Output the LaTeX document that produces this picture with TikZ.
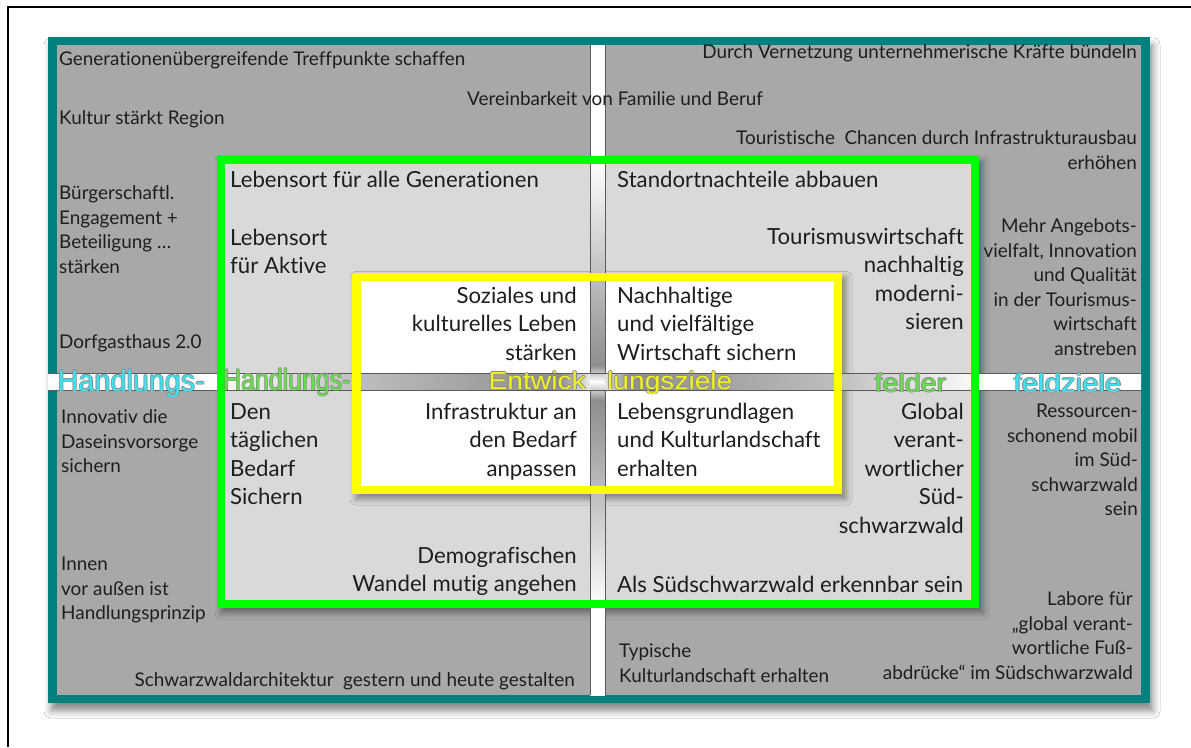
\documentclass[tikz,border=0pt]{standalone}
\usepackage{fontspec}
\usepackage{graphicx}
\setmainfont{Lato}[Ligatures=NoCommon]
\newfontfamily\labelfont{Liberation Sans}
\usetikzlibrary{shadows.blur}
\definecolor{teal0}{HTML}{00807F}
\definecolor{panelgray}{HTML}{A8A8A8}
\definecolor{lightpanel}{HTML}{D9D9D9}
\definecolor{gbox}{HTML}{00FF00}
\definecolor{ybox}{HTML}{FFFF00}
\definecolor{txt}{HTML}{1E1E1E}
\definecolor{bandA}{HTML}{BDBDBD}
\definecolor{bandB}{HTML}{8E8E8E}
\definecolor{bandline}{HTML}{5A5A5A}
\definecolor{cyanL}{HTML}{3CE3EE}
\definecolor{greenL}{HTML}{66E04A}
\definecolor{yellowL}{HTML}{F2F21E}
\definecolor{olgray}{HTML}{8A8A8A}
\pgfdeclarehorizontalshading{hband}{100bp}{color(0bp)=(white); color(25bp)=(white); color(32.64bp)=(white); color(39.27bp)=(bandA); color(48.42bp)=(bandB); color(50.11bp)=(white); color(51.62bp)=(bandB); color(60.96bp)=(bandA); color(67.86bp)=(white); color(75bp)=(white); color(100bp)=(white)}
\pgfdeclareverticalshading{vband}{100bp}{color(0bp)=(white); color(25bp)=(white); color(31.54bp)=(white); color(40.77bp)=(bandA); color(47.69bp)=(bandB); color(49.12bp)=(white); color(50.38bp)=(bandB); color(56.92bp)=(bandA); color(66.15bp)=(white); color(75bp)=(white); color(100bp)=(white)}
\newcommand\olt[3]{%
  \makebox[0pt][l]{\textcolor{#1}{\hspace*{0.8pt}#3}}%
  \makebox[0pt][l]{\textcolor{#1}{\hspace*{-0.8pt}#3}}%
  \makebox[0pt][l]{\textcolor{#1}{\raisebox{0.8pt}{#3}}}%
  \makebox[0pt][l]{\textcolor{#1}{\raisebox{-0.8pt}{#3}}}%
  \textcolor{#2}{#3}}
\tikzset{
  otext/.style={inner sep=0pt, font=\fontsize{18.9}{24.6}\selectfont, text=txt},
  itext/.style={inner sep=0pt, font=\fontsize{22.2}{28.6}\selectfont, text=txt},
  lbl/.style={inner sep=0pt, anchor=base west, font=\labelfont\fontsize{30}{30}\selectfont},
  panelshadow/.style={blur shadow={shadow xshift=4pt, shadow yshift=-5pt, shadow blur radius=6pt, shadow opacity=40}},
}
\begin{document}
\begin{tikzpicture}[x=1pt,y=-1pt]
\useasboundingbox (0,0) rectangle (1191,747);
\fill[white] (0,0) rectangle (1191,747);
% teal frame
\fill[teal0, blur shadow={shadow xshift=3pt, shadow yshift=-8pt, shadow blur radius=7pt, shadow opacity=45}] (48,37) rectangle (1150,703);
\fill[panelgray] (57,45) rectangle (1141,695);
% green and yellow boxes
\fill[lightpanel, panelshadow] (217,156) rectangle (979,608);
\fill[white, panelshadow] (352,272.5) rectangle (842,494);
% gaps between quadrants
\shade[shading=hband] (48,373) rectangle (1141,390);
\shade[shading=vband] (590,45) rectangle (605,695);
\draw[bandline, line width=0.8pt] (48,373) -- (1141,373) (48,390) -- (1141,390);
\draw[bandline, line width=0.8pt] (590,45) -- (590,373) (590,390) -- (590,695) (605,45) -- (605,373) (605,390) -- (605,695);
% frames
\draw[gbox, line width=8pt] (221,160) rectangle (975,604);
\draw[ybox, line width=8.5pt] (356.25,276.75) rectangle (837.75,489.75);
% outer texts (multi-line nodes: base = last line)
\node[otext, anchor=base west] (gen) at (59,65.7) {Generationenübergreifende Treffpunkte schaffen};
\node[otext, anchor=base west] (kultur) at (59,124) {Kultur stärkt Region};
\node[otext, anchor=base west, align=left] (buerger) at (59,273.3) {Bürgerschaftl.\\Engagement +\\Beteiligung …\\stärken};
\node[otext, anchor=base west] (dorf) at (59,348) {Dorfgasthaus 2.0};
\node[otext, anchor=base west] (verein) at (467,105.5) {Vereinbarkeit von Familie und Beruf};
\node[otext, anchor=base east] (durch) at (1137,58.7) {Durch Vernetzung unternehmerische Kräfte bündeln};
\node[otext, anchor=base east, align=right] (tour) at (1137,169.5) {Touristische\hspace{0.25em} Chancen durch Infrastrukturausbau\\erhöhen};
\node[otext, anchor=base east, align=right] (mehr) at (1137,355.5) {Mehr Angebots-\\vielfalt, Innovation\\und Qualität\\in der Tourismus-\\wirtschaft\\anstreben};
\node[otext, anchor=base west, align=left] (innov) at (61,472.7) {Innovativ die\\Daseinsvorsorge\\sichern};
\node[otext, anchor=base west, align=left] (innen) at (61,619.7) {Innen\\vor außen ist\\Handlungsprinzip};
\node[otext, anchor=base east] (schwarz) at (575,686) {Schwarzwaldarchitektur\hspace{0.25em} gestern und heute gestalten};
\node[otext, anchor=base east, align=right] (ress) at (1138,515.9) {Ressourcen-\\schonend mobil\\im Süd-\\schwarzwald\\sein};
\node[otext, anchor=base east, align=right] (labore) at (1133,679.3) {Labore für\\„global verant-\\wortliche Fuß-\\abdrücke“ im Südschwarzwald};
\node[otext, anchor=base west, align=left] (typ) at (619,682.1) {Typische\\Kulturlandschaft erhalten};
% green box texts
\node[itext, anchor=base west] (lalle) at (230,187) {Lebensort für alle Generationen};
\node[itext, anchor=base west, align=left] (laktiv) at (230,273.6) {Lebensort\\für Aktive};
\node[itext, anchor=base west] (stand) at (617,187) {Standortnachteile abbauen};
\node[itext, anchor=base east, align=right] (tourw) at (964,329.8) {Tourismuswirtschaft\\nachhaltig\\moderni-\\sieren};
\node[itext, anchor=base west, align=left] (den) at (230,504.8) {Den\\täglichen\\Bedarf\\Sichern};
\node[itext, anchor=base east, align=right] (global) at (964,533.4) {Global\\verant-\\wortlicher\\Süd-\\schwarzwald};
\node[itext, anchor=base east, align=right] (demo) at (577,591.6) {Demografischen\\Wandel mutig angehen};
\node[itext, anchor=base west] (als) at (617,592) {Als Südschwarzwald erkennbar sein};
% yellow box texts
\node[itext, anchor=base east, align=right] (soz) at (577,360.2) {Soziales und\\kulturelles Leben\\stärken};
\node[itext, anchor=base west, align=left] (nach) at (617,360.2) {Nachhaltige\\und vielfältige\\Wirtschaft sichern};
\node[itext, anchor=base east, align=right] (infra) at (577,476.2) {Infrastruktur an\\den Bedarf\\anpassen};
\node[itext, anchor=base west, align=left] (lebg) at (617,476.2) {Lebensgrundlagen\\und Kulturlandschaft\\erhalten};
% overlay labels
\node[lbl] (hl1) at (57.5,391) {\scalebox{0.96}[1]{\olt{olgray}{cyanL}{Handlungs-}}};
\node[lbl] (hl2) at (223,390) {\scalebox{0.83}[1]{\olt{olgray}{greenL}{Handlungs-}}};
\node[lbl, font=\labelfont\fontsize{24.7}{24.7}\selectfont] (ent1) at (488.5,389) {\scalebox{1.14}[1]{\olt{olgray}{yellowL}{Entwick}}};
\node[lbl, font=\labelfont\fontsize{24.7}{24.7}\selectfont] (ent2) at (607,389) {\scalebox{1.14}[1]{\olt{olgray}{yellowL}{lungsziele}}};
\node[lbl, font=\labelfont\fontsize{26}{26}\selectfont] (fel1) at (874.5,392) {\scalebox{1.1}[1]{\olt{olgray}{greenL}{felder}}};
\node[lbl, font=\labelfont\fontsize{26}{26}\selectfont] (fel2) at (1013.5,392) {\scalebox{1.13}[1]{\olt{olgray}{cyanL}{feldziele}}};
% outer thin frame
\draw[black, line width=1.8pt] (8,747) -- (8,7) -- (1191,7);
\end{tikzpicture}
\end{document}
